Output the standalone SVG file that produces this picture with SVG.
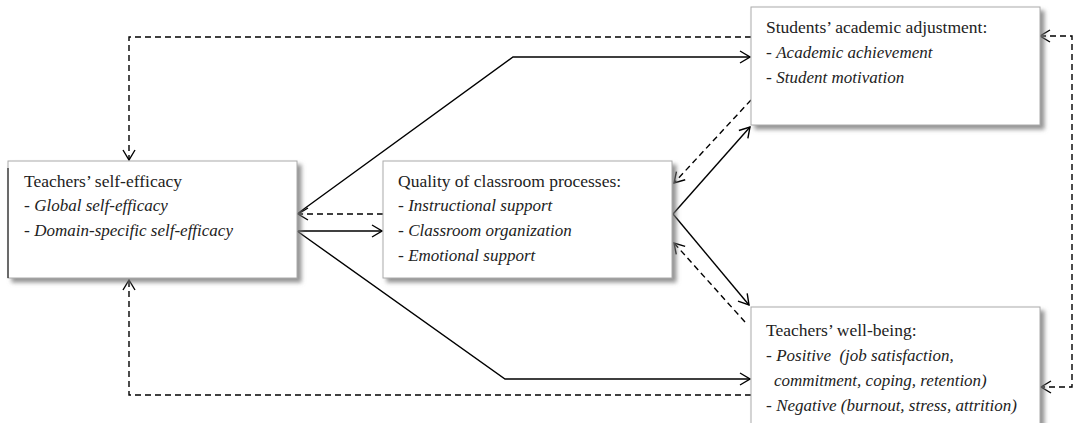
<svg xmlns="http://www.w3.org/2000/svg" width="1076" height="423" viewBox="0 0 1076 423">
<defs>
<filter id="sh" x="-5%" y="-5%" width="115%" height="120%">
<feDropShadow dx="4" dy="4" stdDeviation="2" flood-color="#777" flood-opacity="0.8"/>
</filter>
<marker id="ah" viewBox="0 0 12 14" refX="11" refY="7" markerWidth="12" markerHeight="14" markerUnits="userSpaceOnUse" orient="auto-start-reverse">
<path d="M1,1 L11,7 L1,13" fill="none" stroke="#000" stroke-width="1.4"/>
</marker>
</defs>
<style>
.box{fill:#fff;stroke:#aaa;stroke-width:1;filter:url(#sh)}
.t{font-family:"Liberation Serif",serif;font-size:17.5px;fill:#222}
.i{font-style:italic;font-size:17px}
.s{fill:none;stroke:#000;stroke-width:1.4}
.d{fill:none;stroke:#000;stroke-width:1.4;stroke-dasharray:6 4}
</style>
<rect width="1076" height="423" fill="#fff"/>
<g id="connectors">
<path class="d" d="M751,37 H129 V160" marker-end="url(#ah)"/>
<path class="d" d="M751,395 H129 V280" marker-end="url(#ah)"/>
<path class="d" d="M1040,36 H1072 V387 H1041" marker-start="url(#ah)" marker-end="url(#ah)"/>
<path class="s" d="M297,214 L513,57 H750" marker-end="url(#ah)"/>
<path class="s" d="M297,231 L505,379 H750" marker-end="url(#ah)"/>
<path class="d" d="M383,214 H298" marker-end="url(#ah)"/>
<path class="s" d="M298,231 H382" marker-end="url(#ah)"/>
<path class="s" d="M673,214 L750,127" marker-end="url(#ah)"/>
<path class="s" d="M673,214 L749,305" marker-end="url(#ah)"/>
<path class="d" d="M751,100 L674,183" marker-end="url(#ah)"/>
<path class="d" d="M745,322 L674,243" marker-end="url(#ah)"/>
</g>
<g id="n1">
<rect class="box" x="8" y="161" width="289" height="117"/>
<line x1="8" y1="168" x2="8" y2="278" stroke="#000" stroke-width="1"/>
<text class="t" x="24" y="187">Teachers’ self-efficacy</text>
<text class="t" x="24" y="211">- <tspan class="i">Global self-efficacy</tspan></text>
<text class="t" x="24" y="236">- <tspan class="i">Domain-specific self-efficacy</tspan></text>
</g>
<g id="n2">
<rect class="box" x="383" y="161" width="289" height="117"/>
<text class="t" x="398" y="187">Quality of classroom processes:</text>
<text class="t" x="398" y="211">- <tspan class="i">Instructional support</tspan></text>
<text class="t" x="398" y="236">- <tspan class="i">Classroom organization</tspan></text>
<text class="t" x="398" y="261">- <tspan class="i">Emotional support</tspan></text>
</g>
<g id="n3">
<rect class="box" x="751" y="7" width="289" height="118"/>
<text class="t" x="766" y="33">Students’ academic adjustment:</text>
<text class="t" x="766" y="58">- <tspan class="i">Academic achievement</tspan></text>
<text class="t" x="766" y="83">- <tspan class="i">Student motivation</tspan></text>
</g>
<g id="n4">
<rect class="box" x="751" y="307" width="289" height="125"/>
<text class="t" x="766" y="336">Teachers’ well-being:</text>
<text class="t" x="766" y="361" xml:space="preserve">- <tspan class="i">Positive  (job satisfaction,</tspan></text>
<text class="t i" x="774" y="386">commitment, coping, retention)</text>
<text class="t" x="766" y="411">- <tspan class="i">Negative (burnout, stress, attrition)</tspan></text>
</g>
</svg>
